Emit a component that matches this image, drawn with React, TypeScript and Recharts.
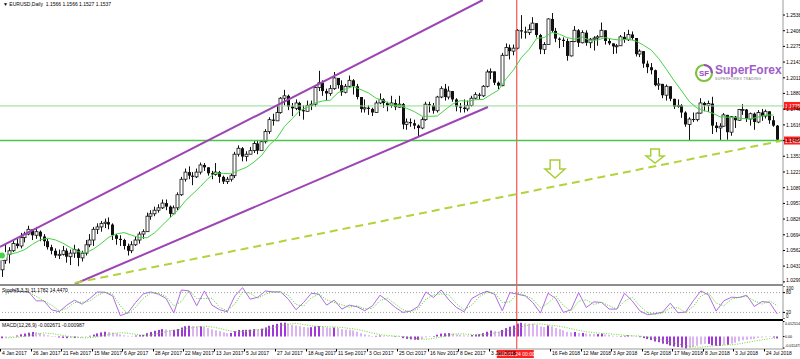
import React from 'react';
import { ComposedChart, Bar, Line, XAxis, YAxis, ReferenceLine, ReferenceDot } from 'recharts';

const FONT = '"Liberation Sans Narrow", "Liberation Sans", Arial, sans-serif';
const X_DOMAIN: [number, number] = [-0.5, 204.5];
const Y_DOMAIN: [number, number] = [1.0281, 1.2664];

// EURUSD, two trading days per candle, prices in pips above 1.0000
const firstOpen = 400;
const closes = [
  480, 530, 560, 620, 600, 670, 700, 740, 690, 720, 680, 640, 590, 560, 520, 530,
  560, 510, 540, 570, 500, 540, 610, 650, 740, 760, 790, 800, 780, 690, 660, 650,
  600, 560, 610, 650, 700, 720, 850, 870, 900, 920, 960, 930, 870, 920, 1030, 1160,
  1220, 1190, 1180, 1220, 1280, 1260, 1210, 1200, 1220, 1180, 1140, 1160, 1190, 1370, 1420, 1350,
  1370, 1400, 1460, 1400, 1475, 1560, 1660, 1650, 1720, 1840, 1860, 1770, 1755, 1800, 1740, 1730,
  1780, 1790, 1930, 1970, 1900, 1880, 1920, 2010, 1950, 1890, 1940, 1990, 1940, 1850, 1750, 1760,
  1750, 1720, 1800, 1830, 1800, 1780, 1800, 1765, 1790, 1620, 1640, 1630, 1610, 1590, 1660, 1790,
  1780, 1735, 1850, 1920, 1850, 1900, 1830, 1770, 1760, 1750, 1780, 1840, 1870, 1860, 1940, 2060,
  2065, 1970, 1945, 2200, 2265, 2235, 2260, 2410, 2400, 2390, 2415, 2470, 2370, 2250, 2290, 2505,
  2405, 2340, 2330, 2320, 2195, 2315, 2410, 2305, 2390, 2305, 2335, 2345, 2355, 2410, 2320, 2300,
  2275, 2280, 2355, 2330, 2375, 2345, 2210, 2235, 2130, 2100, 2075, 1950, 1960, 1865, 1940, 1835,
  1770, 1780, 1720, 1620, 1665, 1660, 1715, 1800, 1780, 1795, 1610, 1590, 1605, 1700, 1555, 1685,
  1655, 1745, 1745, 1665, 1710, 1640, 1720, 1690, 1730, 1655, 1610, 1492,
];
const highs = [
  500, 610, 590, 650, 660, 710, 720, 770, 740, 760, 730, 700, 660, 610, 580, 570,
  600, 580, 570, 610, 580, 560, 650, 700, 760, 790, 810, 830, 840, 790, 700, 690,
  660, 620, 640, 680, 720, 740, 880, 900, 930, 950, 990, 990, 940, 940, 1050, 1180,
  1250, 1268, 1220, 1250, 1300, 1296, 1250, 1230, 1296, 1230, 1190, 1180, 1210, 1390, 1445, 1430,
  1395, 1430, 1480, 1490, 1490, 1580, 1680, 1710, 1777, 1850, 1910, 1870, 1800, 1830, 1810, 1780,
  1820, 1820, 1940, 2070, 1990, 1920, 1950, 2060, 2000, 1990, 1960, 2030, 2000, 1960, 1810, 1830,
  1780, 1760, 1820, 1880, 1840, 1810, 1860, 1830, 1860, 1800, 1670, 1670, 1660, 1620, 1680, 1810,
  1810, 1800, 1860, 1940, 1960, 1940, 1900, 1840, 1800, 1830, 1820, 1860, 1890, 1885, 1950, 2080,
  2090, 2060, 1980, 2220, 2300, 2290, 2290, 2420, 2537, 2440, 2460, 2520, 2470, 2380, 2310, 2510,
  2555, 2430, 2350, 2350, 2340, 2320, 2445, 2420, 2410, 2410, 2345, 2360, 2370, 2475, 2410, 2345,
  2300, 2295, 2370, 2395, 2414, 2400, 2320, 2250, 2215, 2155, 2135, 2080, 2010, 1950, 1955, 1935,
  1830, 1830, 1790, 1730, 1680, 1720, 1720, 1840, 1810, 1820, 1852, 1640, 1630, 1715, 1700, 1690,
  1690, 1750, 1790, 1750, 1720, 1720, 1740, 1750, 1745, 1730, 1690, 1615,
];
const lows = [
  340, 450, 454, 550, 580, 580, 630, 690, 650, 660, 640, 600, 570, 530, 500, 490,
  520, 460, 440, 500, 430, 470, 520, 590, 600, 700, 720, 750, 740, 650, 610, 600,
  570, 520, 540, 600, 620, 660, 770, 820, 850, 880, 910, 900, 840, 860, 900, 1020,
  1140, 1160, 1110, 1170, 1200, 1230, 1190, 1160, 1190, 1130, 1120, 1120, 1140, 1170, 1350, 1310,
  1310, 1370, 1380, 1370, 1400, 1460, 1540, 1610, 1650, 1710, 1780, 1740, 1690, 1740, 1690, 1660,
  1730, 1740, 1770, 1900, 1860, 1820, 1860, 1910, 1920, 1860, 1880, 1930, 1870, 1830, 1720, 1720,
  1700, 1690, 1720, 1790, 1760, 1730, 1760, 1740, 1760, 1580, 1575, 1600, 1580, 1515, 1580, 1650,
  1720, 1710, 1720, 1840, 1820, 1830, 1810, 1730, 1720, 1720, 1730, 1770, 1830, 1830, 1850, 1930,
  2000, 1950, 1915, 1940, 2200, 2165, 2200, 2250, 2340, 2340, 2370, 2440, 2350, 2210, 2210, 2290,
  2390, 2310, 2260, 2270, 2155, 2190, 2310, 2270, 2300, 2280, 2260, 2240, 2280, 2360, 2290, 2285,
  2210, 2215, 2300, 2305, 2320, 2330, 2190, 2185, 2095, 2050, 2040, 1940, 1910, 1840, 1820, 1815,
  1750, 1760, 1675, 1600, 1485, 1640, 1645, 1710, 1730, 1725, 1540, 1555, 1488, 1600, 1492, 1525,
  1590, 1650, 1700, 1640, 1610, 1575, 1630, 1650, 1670, 1625, 1600, 1485,
];
// green moving average, read on even candles
const maEven = [
  520, 530, 545, 570, 614, 651, 665, 651, 623, 585, 552, 544, 575, 621, 674, 702, 712, 690, 670, 669,
  711, 774, 837, 897, 978, 1038, 1100, 1167, 1214, 1208, 1206, 1235, 1260, 1304, 1360, 1447, 1505, 1603, 1669, 1736,
  1765, 1800, 1817, 1824, 1886, 1918, 1939, 1912, 1883, 1839, 1819, 1784, 1780, 1755, 1727, 1689, 1688, 1691, 1742, 1791,
  1819, 1815, 1827, 1830, 1870, 1908, 2002, 2080, 2181, 2249, 2342, 2349, 2391, 2377, 2348, 2336, 2352, 2325, 2328, 2349,
  2334, 2328, 2335, 2320, 2284, 2244, 2171, 2081, 1986, 1900, 1811, 1757, 1735, 1715, 1684, 1681, 1678, 1669, 1666, 1682,
  1699, 1699,
];
// Stoch(5,3,3), read on odd candles
const stochK = [
  80, 87, 83, 82, 55, 55, 28, 22, 42, 57, 45, 62, 82, 81, 70, 10, 19, 50, 76, 82,
  75, 62, 18, 88, 85, 40, 85, 42, 28, 22, 70, 95, 60, 66, 85, 82, 82, 60, 28, 50,
  78, 75, 42, 57, 30, 42, 37, 25, 40, 72, 55, 35, 20, 24, 38, 82, 65, 88, 58, 35,
  22, 62, 75, 84, 75, 25, 80, 75, 70, 50, 18, 78, 62, 20, 28, 80, 35, 52, 50, 30,
  30, 78, 55, 25, 13, 16, 21, 48, 19, 21, 55, 85, 73, 24, 55, 66, 65, 72, 38, 53,
  50, 15,
];
const stochD = [
  75, 83, 85, 82, 68, 55, 42, 25, 32, 50, 51, 54, 72, 81, 75, 40, 15, 35, 63, 79,
  78, 68, 40, 53, 86, 62, 62, 63, 35, 25, 46, 82, 78, 63, 75, 83, 82, 71, 44, 39,
  64, 76, 58, 50, 43, 36, 40, 31, 32, 56, 63, 45, 28, 22, 31, 60, 73, 76, 73, 46,
  28, 42, 68, 80, 80, 50, 52, 78, 72, 60, 34, 48, 70, 41, 24, 54, 58, 44, 51, 40,
  30, 54, 66, 40, 19, 14, 18, 34, 34, 20, 38, 70, 79, 48, 40, 60, 66, 68, 55, 45,
  55, 40,
];
// MACD(12,26,9) main, in 0.0001 units, one per candle
const macdMain = [
  -15, -10, -5, 2, 8, 18, 25, 32, 38, 35, 28, 18, 10, 4, -3, -8, -12, -14, -12, -13,
  -10, -8, -3, 6, 16, 26, 34, 40, 38, 33, 26, 18, 10, 6, 5, 8, 12, 14, 28, 38,
  48, 55, 62, 60, 52, 55, 63, 75, 86, 90, 87, 85, 86, 80, 70, 60, 52, 45, 35, 28,
  30, 45, 55, 55, 56, 58, 62, 60, 66, 76, 90, 98, 106, 115, 116, 108, 98, 92, 86, 80,
  76, 78, 85, 88, 82, 76, 72, 75, 70, 62, 58, 56, 50, 40, 27, 18, 10, 4, 5, 8,
  6, 2, 0, -4, -2, -14, -20, -24, -27, -28, -22, -8, 2, 4, 15, 24, 27, 28, 25, 18,
  14, 10, 8, 12, 16, 20, 28, 40, 50, 45, 40, 55, 70, 82, 92, 108, 115, 112, 108, 106,
  98, 84, 80, 92, 85, 72, 62, 52, 38, 35, 38, 30, 30, 24, 22, 20, 20, 24, 16, 12,
  6, 2, 4, 6, 10, 8, -4, -6, -14, -22, -30, -42, -48, -60, -64, -76, -84, -88, -92, -100,
  -96, -88, -78, -66, -62, -62, -74, -78, -80, -70, -70, -60, -52, -40, -32, -28, -24, -22, -12, -8,
  -5, -4, -8, -16,
];
// MACD signal, read on odd candles
const macdSignal = [
  -12, -9, -3, 8, 20, 30, 25, 14, 3, -6, -11, -10, -3, 10, 24, 32, 28, 18, 10, 12,
  24, 40, 54, 58, 68, 80, 86, 80, 68, 52, 40, 40, 48, 57, 62, 74, 90, 104, 110, 100,
  90, 84, 82, 80, 76, 68, 60, 45, 30, 16, 8, 4, 0, -10, -20, -24, -16, -4, 12, 22,
  22, 16, 14, 18, 30, 42, 52, 70, 90, 104, 106, 98, 90, 80, 66, 52, 40, 32, 26, 22,
  16, 10, 6, 4, -4, -16, -30, -46, -62, -76, -88, -90, -84, -76, -72, -70, -62, -50, -38, -28,
  -18, -12,
];

const priceTicks = [
  1.2538, 1.2406, 1.2275, 1.2143, 1.2011, 1.188, 1.1748, 1.1616, 1.1484,
  1.1353, 1.1221, 1.1089, 1.0957, 1.0826, 1.0694, 1.0562, 1.0431, 1.0299,
];
const stochTicks = [0, 20, 80, 100];
const macdTicks = [125, 0, -97];
const macdTickLabels = ['0.012514', '0.00', '-0.011471'];
const dateLabels = [
  '4 Jan 2017', '26 Jan 2017', '21 Feb 2017', '15 Mar 2017', '6 Apr 2017', '28 Apr 2017',
  '22 May 2017', '13 Jun 2017', '5 Jul 2017', '27 Jul 2017', '18 Aug 2017', '11 Sep 2017',
  '3 Oct 2017', '25 Oct 2017', '16 Nov 2017', '8 Dec 2017', '3 Jan 2018', '25 Jan 2018',
  '16 Feb 2018', '12 Mar 2018', '3 Apr 2018', '25 Apr 2018', '17 May 2018', '8 Jun 2018',
  '3 Jul 2018', '24 Jul 2018',
];
const redDateIdx = 134.8;
const redDateText = '2018.01.24 00:00';
const levelLines = [
  { price: 1.1775, text: '1.1775', color: '#8fdc8f', w: 1 },
  { price: 1.1485, text: '1.1485', color: '#4cc44c', w: 1.6 },
];
// analyst drawings: [candle index, price]
const upperChannel = [[-0.5, 1.0592], [125.9, 1.2664]];
const lowerChannel = [[19.1, 1.0281], [127.25, 1.1766]];
const dashedTrend = [[19.1, 1.029], [203.9, 1.1481]];
const arrows = [
  { idx: 144.8, price: 1.1246, w: 20, h: 18 },
  { idx: 171.0, price: 1.1355, w: 18, h: 14 },
];

const P = (v: number) => 1 + v / 10000;
const rows = closes.map((c, i) => {
  const o = i === 0 ? firstOpen : closes[i - 1];
  const h = Math.max(highs[i], o, c);
  const l = Math.min(lows[i], o, c);
  const prevM = i === 0 ? macdMain[0] : macdMain[i - 1];
  return {
    i,
    o: P(o), c: P(c), h: P(h), l: P(l),
    range: [P(l), P(h)],
    ma: i % 2 === 0 ? P(maEven[i / 2]) : null,
    k: i % 2 === 1 ? stochK[(i - 1) / 2] : null,
    d: i % 2 === 1 ? stochD[(i - 1) / 2] : null,
    macd: macdMain[i],
    grow: Math.abs(macdMain[i]) >= Math.abs(prevM),
    sig: i % 2 === 1 ? macdSignal[(i - 1) / 2] : null,
  };
});

const Candle = (props: any) => {
  const { x, y, width, height, payload } = props;
  if (height == null || isNaN(y)) return null;
  const cx = Math.round(x + width / 2) + 0.5;
  const span = payload.h - payload.l;
  const k = span > 0 ? height / span : 0;
  const top = y + (payload.h - Math.max(payload.o, payload.c)) * k;
  const bot = y + (payload.h - Math.min(payload.o, payload.c)) * k;
  const bull = payload.c >= payload.o;
  return (
    <g>
      <line x1={cx} x2={cx} y1={y} y2={y + height} stroke="#111" strokeWidth={1} />
      <rect x={cx - 1.5} y={top} width={3} height={Math.max(1, bot - top)}
        fill={bull ? '#fff' : '#111'} stroke="#111" strokeWidth={bull ? 0.8 : 0} />
    </g>
  );
};

const MacdBar = (props: any) => {
  const { x, y, width, height, payload } = props;
  if (height == null || isNaN(y)) return null;
  const cx = Math.round(x + width / 2);
  const y0 = Math.min(y, y + height);
  return <rect x={cx - 1} y={y0} width={2} height={Math.max(0.5, Math.abs(height))}
    fill={payload.grow ? '#a235dc' : '#dcb4f2'} />;
};

const DownArrow = ({ cx, cy, w, h }: any) => {
  const hw = w / 2, sw = w * 0.24;
  const pts = [[cx - sw, cy - h / 2], [cx + sw, cy - h / 2], [cx + sw, cy], [cx + hw, cy],
    [cx, cy + h / 2], [cx - hw, cy], [cx - sw, cy]];
  return <polygon points={pts.map(p => p.join(',')).join(' ')} fill="none" stroke="#a9cf38" strokeWidth={1.5} />;
};

const PriceTag = (text: string) => (p: any) => {
  const vb = p.viewBox;
  if (!vb) return null;
  const x = vb.x + vb.width;
  return (
    <g>
      <rect x={x + 1} y={vb.y - 4} width={17} height={8} fill="#ff2020" />
      <text x={x + 2} y={vb.y + 2} fontSize={5} fontFamily={FONT} fill="#fff">{text}</text>
    </g>
  );
};

const DateTag = (p: any) => {
  const vb = p.viewBox;
  if (!vb) return null;
  const yb = vb.y + vb.height;
  return (
    <g>
      <rect x={vb.x - 20} y={yb + 1} width={37} height={8} fill="#ff2020" />
      <text x={vb.x - 1.5} y={yb + 7} fontSize={5} fontFamily={FONT} fill="#fff" textAnchor="middle">{redDateText}</text>
    </g>
  );
};

const DateTick = (p: any) => {
  const k = Math.round((p.payload.value + 0.5) / 8);
  const x = Math.round(p.x) + 0.5;
  return (
    <g>
      <line x1={x} x2={x} y1={p.y} y2={p.y + 2.5} stroke="#000" strokeWidth={1} />
      <text x={x + 1.5} y={p.y + 6} fontSize={5} fontFamily={FONT} fill="#000">{dateLabels[k]}</text>
    </g>
  );
};

// right-axis label kept inside its pane
const RightTick = (p: any) => {
  const { x, y, payload, lo, hi, fmt, size } = p;
  const fs = size || 5;
  const yy = Math.min(Math.max(y, lo), hi);
  return (
    <text x={x} y={yy + fs * 0.36} fontSize={fs} fontFamily={FONT} fill="#000">{fmt ? fmt(payload.value) : payload.value}</text>
  );
};

const dateTicks = dateLabels.map((_, k) => k * 8 - 0.5).filter((_, k) => k !== 17);
const margin = { top: 0, right: 0, bottom: 0, left: 0 };
const seg = (a: number[][]) => [{ x: a[0][0], y: a[0][1] }, { x: a[1][0], y: a[1][1] }];
const priceFmt = (v: number) => v.toFixed(4);
const macdFmt = (v: number) => macdTickLabels[macdTicks.indexOf(v)];

export default function App() {
  return (
    <div style={{ position: 'absolute', left: 0, top: 0, width: 800, height: 359, background: '#fff', overflow: 'hidden' }}>
      {/* price pane */}
      <div style={{ position: 'absolute', left: 0, top: 0 }}>
        <ComposedChart width={800} height={284} data={rows} margin={margin}>
          <XAxis type="number" dataKey="i" domain={X_DOMAIN} hide allowDataOverflow />
          <YAxis orientation="right" width={17} domain={Y_DOMAIN} ticks={priceTicks} allowDataOverflow interval={0}
            tick={<RightTick lo={3} hi={280} fmt={priceFmt} />} tickSize={2} tickMargin={1}
            axisLine={{ stroke: '#9a9a9a' }} tickLine={{ stroke: '#000' }} />
          <ReferenceLine x={redDateIdx} stroke="#ff3030" strokeWidth={1} />
          {levelLines.map(l => (
            <ReferenceLine key={l.text} y={l.price} stroke={l.color} strokeWidth={l.w} ifOverflow="visible" label={PriceTag(l.text)} />
          ))}
          <ReferenceLine segment={seg(upperChannel)} stroke="#9c44b4" strokeWidth={2} ifOverflow="visible" />
          <ReferenceLine segment={seg(lowerChannel)} stroke="#9c44b4" strokeWidth={2} ifOverflow="visible" />
          <ReferenceLine segment={seg(dashedTrend)} stroke="#b2d43a" strokeWidth={2} strokeDasharray="8 5" ifOverflow="visible" />
          <Bar dataKey="range" barSize={3} shape={<Candle />} isAnimationActive={false} />
          <Line dataKey="ma" stroke="#44d444" strokeWidth={1} dot={false} connectNulls isAnimationActive={false} />
          {arrows.map(a => (
            <ReferenceDot key={a.idx} x={a.idx} y={a.price} r={0} ifOverflow="visible"
              shape={(p: any) => <DownArrow cx={p.cx} cy={p.cy} w={a.w} h={a.h} />} />
          ))}
        </ComposedChart>
      </div>
      <div style={{ position: 'absolute', left: 3, top: 1, fontSize: 5, fontFamily: FONT, color: '#000', whiteSpace: 'nowrap' }}>
        ▼ EURUSD,Daily&nbsp; 1.1566 1.1566 1.1527 1.1537
      </div>
      {/* logo */}
      <div style={{ position: 'absolute', left: 694, top: 63, display: 'flex', alignItems: 'center' }}>
        <svg width={20} height={20}>
          <circle cx={10} cy={10} r={8} fill="#fff" stroke="#7cc242" strokeWidth={2.2} />
          <path d="M10 2 A8 8 0 0 1 18 10" fill="none" stroke="#9b4dbf" strokeWidth={2.2} />
          <text x={10} y={13} fontSize={8} fontWeight="bold" fontFamily="Arial" fill="#9b4dbf" textAnchor="middle">SF</text>
        </svg>
        <div style={{ marginLeft: 1 }}>
          <div style={{ fontSize: 12, lineHeight: '12px', fontWeight: 'bold', fontFamily: '"Liberation Sans", Arial', color: '#a05cc8' }}>SuperForex</div>
          <div style={{ fontSize: 3.5, lineHeight: '5px', marginTop: 1, fontFamily: FONT, color: '#777', letterSpacing: 0.3 }}>SUPERFOREX TRADING</div>
        </div>
      </div>
      <div style={{ position: 'absolute', left: 0, top: 284, width: 783, height: 2, background: '#8c8c8c' }} />
      {/* stochastic pane */}
      <div style={{ position: 'absolute', left: 0, top: 286 }}>
        <ComposedChart width={800} height={33} data={rows} margin={margin}>
          <XAxis type="number" dataKey="i" domain={X_DOMAIN} hide allowDataOverflow />
          <YAxis orientation="right" width={17} domain={[0, 100]} ticks={stochTicks} interval={0} allowDataOverflow
            tick={<RightTick lo={2.2} hi={30.5} size={4.5} />} tickSize={2} tickMargin={1} axisLine={{ stroke: '#9a9a9a' }} tickLine={{ stroke: '#000' }} />
          <ReferenceLine y={80} stroke="#a0a0a0" strokeDasharray="1 2" />
          <ReferenceLine y={20} stroke="#a0a0a0" strokeDasharray="1 2" />
          <ReferenceLine x={redDateIdx} stroke="#ff3030" strokeWidth={1} />
          <Line dataKey="k" stroke="#b469e8" strokeWidth={1} dot={false} connectNulls isAnimationActive={false} />
          <Line dataKey="d" stroke="#3fdc12" strokeWidth={1} strokeDasharray="1 1.5" dot={false} connectNulls isAnimationActive={false} />
        </ComposedChart>
      </div>
      <div style={{ position: 'absolute', left: 2, top: 287, fontSize: 5, fontFamily: FONT, color: '#000', whiteSpace: 'nowrap' }}>
        Stoch(5,3,3) 11.1782 14.4470
      </div>
      <div style={{ position: 'absolute', left: 0, top: 319, width: 783, height: 2, background: '#000' }} />
      {/* MACD pane + date axis */}
      <div style={{ position: 'absolute', left: 0, top: 321 }}>
        <ComposedChart width={800} height={38} data={rows} margin={margin}>
          <XAxis type="number" dataKey="i" domain={X_DOMAIN} allowDataOverflow ticks={dateTicks} interval={0}
            height={10} tickLine={false} tickSize={0} tickMargin={0} tick={<DateTick />} axisLine={{ stroke: '#9a9a9a' }} />
          <YAxis orientation="right" width={17} domain={[-105, 130]} ticks={macdTicks} interval={0} allowDataOverflow
            tick={<RightTick lo={3} hi={25} fmt={macdFmt} size={3.6} />} tickSize={1.5} tickMargin={0.5}
            axisLine={{ stroke: '#9a9a9a' }} tickLine={{ stroke: '#000' }} />
          <Bar dataKey="macd" barSize={2} shape={<MacdBar />} isAnimationActive={false} />
          <Line dataKey="sig" stroke="#5fe01a" strokeWidth={1} strokeDasharray="1 1.5" dot={false} connectNulls isAnimationActive={false} />
          <ReferenceLine x={redDateIdx} stroke="#ff3030" strokeWidth={1} ifOverflow="visible" label={DateTag} />
        </ComposedChart>
      </div>
      <div style={{ position: 'absolute', left: 2, top: 322, fontSize: 5, fontFamily: FONT, color: '#000', whiteSpace: 'nowrap' }}>
        MACD(12,26,9) -0.002671 -0.000987
      </div>
    </div>
  );
}
